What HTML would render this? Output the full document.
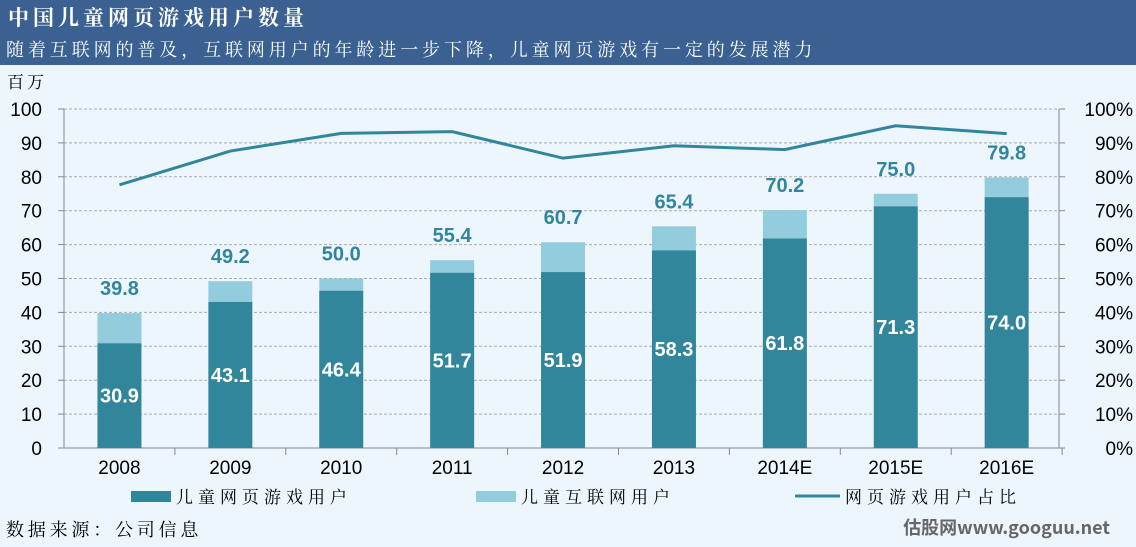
<!DOCTYPE html><html><head><meta charset="utf-8"><style>
body{margin:0;width:1136px;height:547px;background:#EEF6FD;overflow:hidden;font-family:"Liberation Sans","Noto Sans CJK SC",sans-serif}
</style></head><body>
<svg id="s" width="1136" height="547" xmlns="http://www.w3.org/2000/svg" style="position:absolute;left:0;top:0">
<rect x="0" y="0" width="1136" height="65" fill="#3A6191"/>
<text x="8" y="25" font-size="21" font-weight="bold" fill="#fff" font-family="'Noto Serif CJK SC','Noto Sans CJK SC',sans-serif" letter-spacing="4">中国儿童网页游戏用户数量</text>
<text x="6" y="56" font-size="18" fill="#fff" font-family="'Noto Serif CJK SC','Noto Sans CJK SC',sans-serif" letter-spacing="3.9">随着互联网的普及，互联网用户的年龄进一步下降，儿童网页游戏有一定的发展潜力</text>
<text x="7" y="88" font-size="17" fill="#000" font-family="'Noto Serif CJK SC','Noto Sans CJK SC',sans-serif" letter-spacing="3">百万</text>
<text x="6" y="536" font-size="18" fill="#000" font-family="'Noto Serif CJK SC','Noto Sans CJK SC',sans-serif" letter-spacing="3.8">数据来源：公司信息</text>
<text x="1110" y="534" font-size="18" font-weight="bold" fill="#666" text-anchor="end" font-family="'Noto Sans CJK SC',sans-serif">估股网www.googuu.net</text>
</svg>
<script>
var s=document.getElementById('s'),h='';
var y0=448,k=3.39,x0=64,cw=110.9;
function Y(v){return y0-k*v}
for(var i=0;i<=10;i++){var y=Y(i*10);
 if(i>0)h+='<line x1="64" x2="1059" y1="'+y+'" y2="'+y+'" stroke="#aaa" stroke-dasharray="3,2"/>';
 h+='<line x1="58" x2="64" y1="'+y+'" y2="'+y+'" stroke="#888"/><line x1="1059" x2="1065" y1="'+y+'" y2="'+y+'" stroke="#888"/>';
 h+='<text x="42" y="'+(y+7)+'" font-size="19" text-anchor="end">'+i*10+'</text>';
 h+='<text x="1133" y="'+(y+7)+'" font-size="19" text-anchor="end">'+i*10+'%</text>';}
h+='<line x1="64" x2="64" y1="'+Y(100)+'" y2="448" stroke="#888"/><line x1="1059" x2="1059" y1="'+Y(100)+'" y2="448" stroke="#888"/><line x1="64" x2="1059" y1="448" y2="448" stroke="#888"/>';
var L=['2008','2009','2010','2011','2012','2013','2014E','2015E','2016E'],
D=[30.9,43.1,46.4,51.7,51.9,58.3,61.8,71.3,74.0],T=[39.8,49.2,50.0,55.4,60.7,65.4,70.2,75.0,79.8],pts=[];
for(var i=0;i<9;i++){var c=x0+cw*(i+.5);
 h+='<line x1="'+(x0+cw*(i+1))+'" x2="'+(x0+cw*(i+1))+'" y1="448" y2="455" stroke="#888"/>';
 h+='<rect x="'+(c-22)+'" y="'+Y(T[i])+'" width="44" height="'+k*(T[i]-D[i])+'" fill="#93CDDD"/>';
 h+='<rect x="'+(c-22)+'" y="'+Y(D[i])+'" width="44" height="'+k*D[i]+'" fill="#31869B"/>';
 h+='<text x="'+c+'" y="'+(Y(D[i]/2)+7)+'" font-size="20" font-weight="bold" fill="#fff" text-anchor="middle">'+D[i].toFixed(1)+'</text>';
 h+='<text x="'+c+'" y="'+(Y(T[i])-18)+'" font-size="20" font-weight="bold" fill="#31859C" text-anchor="middle">'+T[i].toFixed(1)+'</text>';
 h+='<text x="'+c+'" y="474" font-size="19" text-anchor="middle">'+L[i]+'</text>';
 pts.push(c+','+Y(D[i]/T[i]*100));}
h+='<polyline points="'+pts.join(' ')+'" fill="none" stroke="#31859C" stroke-width="3"/>';
var ff='font-family="\'Noto Serif CJK SC\',sans-serif" letter-spacing="5"';
h+='<rect x="131" y="491" width="40" height="11" fill="#31869B"/><text x="176" y="503" font-size="17" '+ff+'>儿童网页游戏用户</text>';
h+='<rect x="476" y="491" width="40" height="11" fill="#93CDDD"/><text x="521" y="503" font-size="17" '+ff+'>儿童互联网用户</text>';
h+='<line x1="795" x2="840" y1="496" y2="496" stroke="#31859C" stroke-width="3"/><text x="845" y="503" font-size="17" '+ff+'>网页游戏用户占比</text>';
s.insertAdjacentHTML('beforeend',h);
</script>
</body></html>
